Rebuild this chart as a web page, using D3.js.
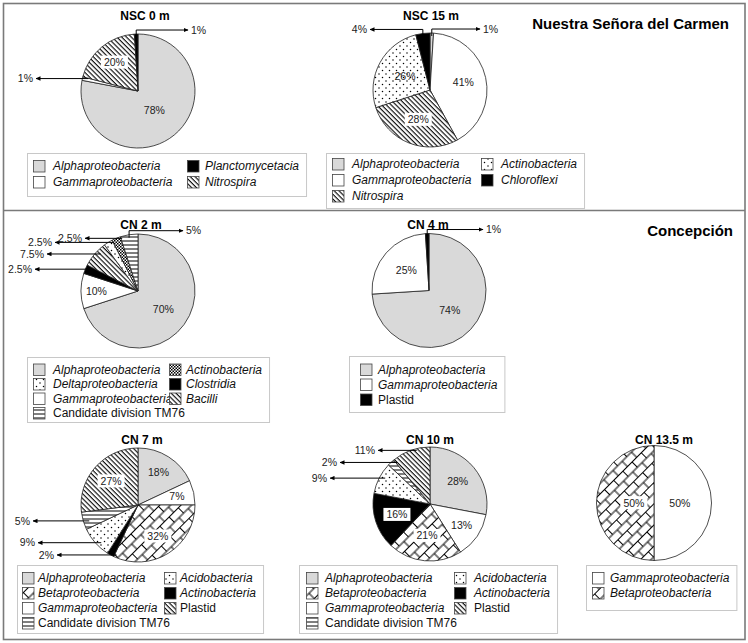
<!DOCTYPE html>
<html><head><meta charset="utf-8">
<script src="https://cdn.jsdelivr.net/npm/d3@7"></script>
<style>body{margin:0;background:#fff} svg{display:block;font-family:"Liberation Sans",Arial,Helvetica,sans-serif}</style>
</head><body><svg id="c" width="748" height="643"></svg>
<script>
// ---------------- DATA ----------------
const nsc0Taxa = ["Alphaproteobacteria","Gammaproteobacteria","Nitrospira","Planctomycetacia"];
const nsc0Values = [78, 1, 20, 1];
const nsc0Legend = ["Alphaproteobacteria","Gammaproteobacteria","Planctomycetacia","Nitrospira"];

const nsc15Taxa = ["Alphaproteobacteria","Gammaproteobacteria","Nitrospira","Actinobacteria","Chloroflexi"];
const nsc15Values = [1, 41, 28, 26, 4];
const nsc15Legend = ["Alphaproteobacteria","Gammaproteobacteria","Nitrospira","Actinobacteria","Chloroflexi"];

const cn2Taxa = ["Alphaproteobacteria","Gammaproteobacteria","Clostridia","Bacilli","Deltaproteobacteria","Actinobacteria","Candidate division TM76"];
const cn2Values = [70, 10, 2.5, 7.5, 2.5, 2.5, 5];
const cn2Legend = ["Alphaproteobacteria","Deltaproteobacteria","Gammaproteobacteria","Candidate division TM76","Actinobacteria","Clostridia","Bacilli"];

const cn4Taxa = ["Alphaproteobacteria","Gammaproteobacteria","Plastid"];
const cn4Values = [74, 25, 1];
const cn4Legend = ["Alphaproteobacteria","Gammaproteobacteria","Plastid"];

const cn7Taxa = ["Alphaproteobacteria","Gammaproteobacteria","Betaproteobacteria","Actinobacteria","Acidobacteria","Candidate division TM76","Plastid"];
const cn7Values = [18, 7, 32, 2, 9, 5, 27];
const cn7Legend = ["Alphaproteobacteria","Betaproteobacteria","Gammaproteobacteria","Candidate division TM76","Acidobacteria","Actinobacteria","Plastid"];

const cn10Taxa = ["Alphaproteobacteria","Gammaproteobacteria","Betaproteobacteria","Actinobacteria","Acidobacteria","Candidate division TM76","Plastid"];
const cn10Values = [28, 13, 21, 16, 9, 2, 11];
const cn10Legend = ["Alphaproteobacteria","Betaproteobacteria","Gammaproteobacteria","Candidate division TM76","Acidobacteria","Actinobacteria","Plastid"];

const cn135Taxa = ["Gammaproteobacteria","Betaproteobacteria"];
const cn135Values = [50, 50];
const cn135Legend = ["Gammaproteobacteria","Betaproteobacteria"];

const sectionTitles = ["Nuestra Señora del Carmen","Concepción"];
const nonItalic = ["Candidate division TM76","Plastid"];

// ---------------- STYLES ----------------
const baseFill = {
  "Alphaproteobacteria":"grey","Gammaproteobacteria":"white","Betaproteobacteria":"brick",
  "Deltaproteobacteria":"dots","Nitrospira":"hatch","Planctomycetacia":"black","Chloroflexi":"black",
  "Clostridia":"black","Bacilli":"hatch","Acidobacteria":"dots","Candidate division TM76":"hlines",
  "Plastid":"hatch","Actinobacteria":"black"
};

const svg = d3.select("#c");
const defs = svg.append("defs");
function pat(id, w, h, tr) {
  const p = defs.append("pattern").attr("id", id).attr("patternUnits","userSpaceOnUse")
    .attr("width", w).attr("height", h);
  if (tr) p.attr("patternTransform", tr);
  p.append("rect").attr("width", w).attr("height", h).attr("fill", "#fff");
  return p;
}
let p = pat("hatch", 3.4, 3.4, "rotate(45)");
p.append("line").attr("x1",0).attr("x2",3.4).attr("y1",0.6).attr("y2",0.6).attr("stroke","#000").attr("stroke-width",1.1);
p = pat("hlines", 6, 4);
p.append("line").attr("x1",0).attr("x2",6).attr("y1",2).attr("y2",2).attr("stroke","#000").attr("stroke-width",1);
p = pat("dots", 7, 7);
p.append("circle").attr("cx",1.5).attr("cy",1.5).attr("r",0.75).attr("fill","#000");
p.append("circle").attr("cx",5).attr("cy",5).attr("r",0.75).attr("fill","#000");
p = pat("checker", 3, 3);
p.append("rect").attr("x",0).attr("y",0).attr("width",1.5).attr("height",1.5).attr("fill","#000");
p.append("rect").attr("x",1.5).attr("y",1.5).attr("width",1.5).attr("height",1.5).attr("fill","#000");
p = pat("brick", 13, 15, "rotate(-45)");
[[0,0.5,13,0.5],[0,8,13,8],[0.5,0.5,0.5,8],[7,8,7,15]].forEach(l =>
  p.append("line").attr("x1",l[0]).attr("y1",l[1]).attr("x2",l[2]).attr("y2",l[3]).attr("stroke","#000").attr("stroke-width",1));

defs.append("marker").attr("id","arr").attr("viewBox","0 0 10 10").attr("refX",9).attr("refY",5)
  .attr("markerWidth",5).attr("markerHeight",5).attr("orient","auto")
  .append("path").attr("d","M0,0.5L10,5L0,9.5z").attr("fill","#000");

function fillOf(key) {
  return {grey:"#d9d9d9", white:"#fff", black:"#000"}[key] || `url(#${key})`;
}

// ---------------- FRAME ----------------
svg.append("rect").attr("x",3.5).attr("y",3.5).attr("width",741.5).attr("height",636)
  .attr("fill","none").attr("stroke","#7a7a7a").attr("stroke-width",1.6);
svg.append("line").attr("x1",3.5).attr("x2",745).attr("y1",210.5).attr("y2",210.5)
  .attr("stroke","#7a7a7a").attr("stroke-width",1.6);
svg.append("text").attr("x",729).attr("y",28.5).attr("text-anchor","end")
  .attr("font-weight","bold").attr("font-size",15).text(sectionTitles[0]);
svg.append("text").attr("x",733).attr("y",235.5).attr("text-anchor","end")
  .attr("font-weight","bold").attr("font-size",15).text(sectionTitles[1]);

// ---------------- CHARTS ----------------
const charts = [
  { title:"NSC 0 m", taxa:nsc0Taxa, values:nsc0Values, legend:nsc0Legend, over:{},
    cx:138, cy:91, r:57, tx:145, ty:20,
    labels:[{t:"in",k:0.45},{t:"h",tip:36},{t:"in",k:0.65,box:true},{t:"top",dir:1,tip:188}],
    leg:{x:27,y:153,h:43,cols:[[33,53],[187,205]],per:2,y0:166,dy:16} },
  { title:"NSC 15 m", taxa:nsc15Taxa, values:nsc15Values, legend:nsc15Legend, over:{"Actinobacteria":"dots"},
    cx:430, cy:90, r:57, tx:431, ty:20,
    labels:[{t:"top",dir:1,tip:480},{t:"in",k:0.6},{t:"in",k:0.56,box:true},{t:"in",k:0.5},{t:"top",dir:-1,tip:370}],
    leg:{x:326,y:153,h:55,cols:[[332,352],[481,501]],per:3,y0:164,dy:16} },
  { title:"CN 2 m", taxa:cn2Taxa, values:cn2Values, legend:cn2Legend, over:{"Actinobacteria":"checker"},
    cx:138, cy:291, r:57, tx:141, ty:228.5,
    labels:[{t:"in",k:0.55},{t:"in",k:0.73},{t:"h",tip:35},{t:"h",tip:47},{t:"h",tip:55},{t:"h",tip:85},{t:"top",dir:1,tip:183}],
    leg:{x:27,y:357,h:65,cols:[[33,53],[169,186]],per:4,y0:369.5,dy:14.5} },
  { title:"CN 4 m", taxa:cn4Taxa, values:cn4Values, legend:cn4Legend, over:{"Plastid":"black"},
    cx:429, cy:290.5, r:57, tx:428, ty:228.5,
    labels:[{t:"in",k:0.5},{t:"in",k:0.53},{t:"top",dir:1,tip:483}],
    leg:{x:349,y:356,h:56,cols:[[360,378]],per:3,y0:369.5,dy:15} },
  { title:"CN 7 m", taxa:cn7Taxa, values:cn7Values, legend:cn7Legend, over:{},
    cx:138, cy:505, r:57, tx:142, ty:444,
    labels:[{t:"in",k:0.67},{t:"in",k:0.7},{t:"in",k:0.65,box:true},{t:"h",tip:57},{t:"h",tip:38},{t:"h",tip:33},{t:"in",k:0.63,box:true}],
    leg:{x:17,y:565,h:68,cols:[[22,38],[164,180]],per:4,y0:578,dy:15} },
  { title:"CN 10 m", taxa:cn10Taxa, values:cn10Values, legend:cn10Legend, over:{},
    cx:430, cy:504, r:57, tx:430, ty:444,
    labels:[{t:"in",k:0.63},{t:"in",k:0.67},{t:"in",k:0.56,box:true},{t:"in",k:0.61,box:true},{t:"h",tip:330},{t:"h",tip:340},{t:"h",tip:378}],
    leg:{x:299,y:565,h:68,cols:[[306,325],[454,474]],per:4,y0:578,dy:15} },
  { title:"CN 13.5 m", taxa:cn135Taxa, values:cn135Values, legend:cn135Legend, over:{},
    cx:654, cy:503, r:57.5, tx:664, ty:444,
    labels:[{t:"in",k:0.45},{t:"in",k:0.35,box:true}],
    leg:{x:586,y:565,h:45,cols:[[592,610]],per:2,y0:578,dy:15} }
];

const pie = d3.pie().sort(null).value(d => d.v).startAngle(0).endAngle(2*Math.PI);

charts.forEach(c => {
  const data = c.taxa.map((t,i) => ({t, v:c.values[i], lab:c.labels[i]}));
  const fillKey = t => c.over[t] || baseFill[t];
  const g = svg.append("g");
  g.append("text").attr("x",c.tx).attr("y",c.ty).attr("text-anchor","middle")
    .attr("font-weight","bold").attr("font-size",12).text(c.title);

  const pg = g.append("g").attr("transform",`translate(${c.cx},${c.cy})`);
  const arc = d3.arc().innerRadius(0).outerRadius(c.r);
  const arcs = pie(data);
  pg.selectAll("path.s").data(arcs).join("path").attr("class","s")
    .attr("d", arc).attr("fill", d => fillOf(fillKey(d.data.t)))
    .attr("stroke","#222").attr("stroke-width",0.8).attr("stroke-linejoin","round");

  arcs.forEach(a => {
    const L = a.data.lab; if (!L) return;
    const mid = (a.startAngle + a.endAngle)/2;
    const txt = a.data.v + "%";
    if (L.t === "in") {
      const rr = c.r * L.k;
      const x = Math.sin(mid)*rr, y = -Math.cos(mid)*rr;
      const t = pg.append("text").attr("x",x).attr("y",y).attr("dy","0.35em")
        .attr("text-anchor","middle").attr("font-size",10.5).attr("fill","#222").text(txt);
      if (L.box) {
        const b = t.node().getBBox();
        pg.insert("rect","text").attr("x",b.x-3).attr("y",b.y-0.5).attr("width",b.width+6)
          .attr("height",b.height+1).attr("fill","#fff");
      }
    } else if (L.t === "h") {
      const ex = Math.sin(mid)*c.r, ey = -Math.cos(mid)*c.r;
      const x0 = ex + 6, tipX = L.tip - c.cx;
      pg.append("line").attr("x1",x0).attr("y1",ey).attr("x2",tipX).attr("y2",ey)
        .attr("stroke","#000").attr("stroke-width",1).attr("marker-end","url(#arr)");
      pg.append("text").attr("x",tipX-3).attr("y",ey).attr("dy","0.35em").attr("text-anchor","end")
        .attr("font-size",10.5).attr("fill","#222").text(txt);
    } else if (L.t === "top") {
      const ex = Math.sin(mid)*c.r, ey = -Math.cos(mid)*c.r;
      const yl = ey - 4, tipX = L.tip - c.cx;
      pg.append("polyline").attr("points",`${ex},${ey+3} ${ex},${yl} ${tipX},${yl}`)
        .attr("fill","none").attr("stroke","#000").attr("stroke-width",1).attr("marker-end","url(#arr)");
      pg.append("text").attr("x", L.dir > 0 ? tipX+3 : tipX-3).attr("y",yl).attr("dy","0.35em")
        .attr("text-anchor", L.dir > 0 ? "start" : "end")
        .attr("font-size",10.5).attr("fill","#222").text(txt);
    }
  });

  // legend
  const lg = g.append("g");
  const box = lg.append("rect").attr("x",c.leg.x+0.5).attr("y",c.leg.y+0.5).attr("height",c.leg.h)
    .attr("fill","#fff").attr("stroke","#c8c8c8").attr("stroke-width",1);
  let maxEnd = 0;
  c.legend.forEach((t,i) => {
    const col = Math.floor(i / c.leg.per), row = i % c.leg.per;
    const [sx, tx] = c.leg.cols[col];
    const y = c.leg.y0 + row*c.leg.dy;
    lg.append("rect").attr("x",sx+0.5).attr("y",y-5.5).attr("width",11.5).attr("height",11.5)
      .attr("fill", fillOf(fillKey(t))).attr("stroke","#444").attr("stroke-width",0.8);
    const te = lg.append("text").attr("x",tx).attr("y",y).attr("dy","0.36em").attr("font-size",12)
      .attr("font-style", nonItalic.includes(t) ? "normal" : "italic").attr("fill","#111").text(t);
    maxEnd = Math.max(maxEnd, tx + te.node().getComputedTextLength());
  });
  box.attr("width", maxEnd + 7 - c.leg.x);
});
</script></body></html>
